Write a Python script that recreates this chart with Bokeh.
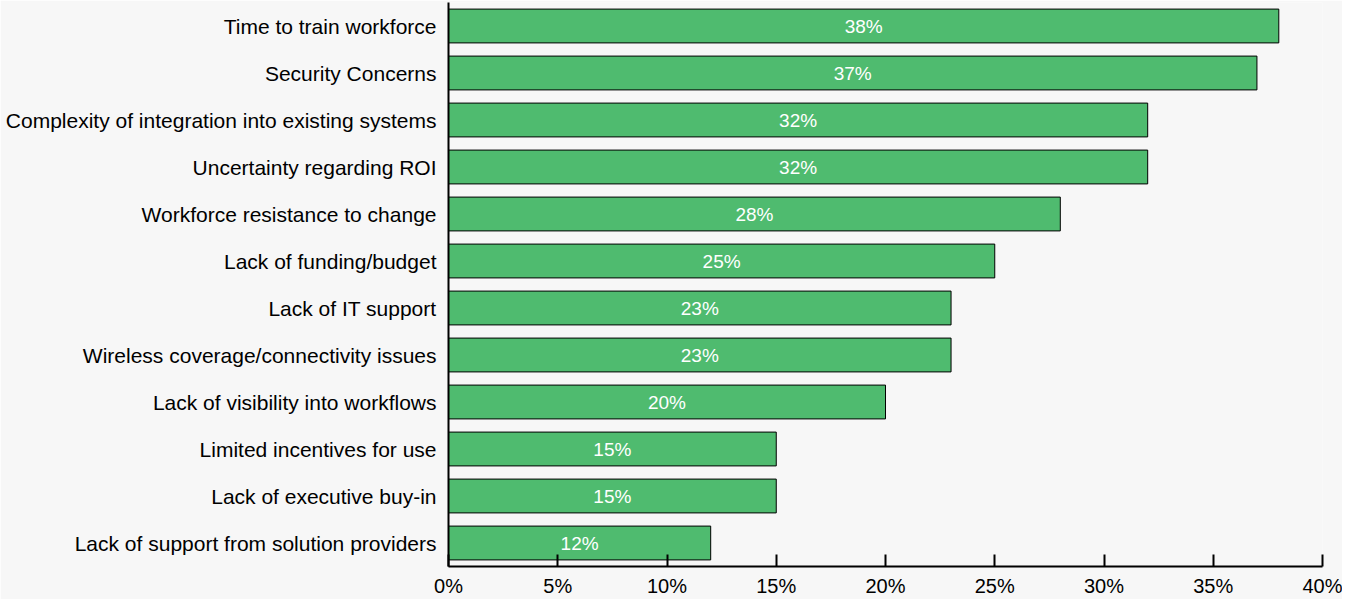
from bokeh.plotting import figure
from bokeh.models import ColumnDataSource, FixedTicker, PrintfTickFormatter, Range1d, FactorRange
from bokeh.core.properties import value
from bokeh.embed import file_html
from bokeh.resources import INLINE

categories = [
    "Time to train workforce",
    "Security Concerns",
    "Complexity of integration into existing systems",
    "Uncertainty regarding ROI",
    "Workforce resistance to change",
    "Lack of funding/budget",
    "Lack of IT support",
    "Wireless coverage/connectivity issues",
    "Lack of visibility into workflows",
    "Limited incentives for use",
    "Lack of executive buy-in",
    "Lack of support from solution providers",
]
values = [38, 37, 32, 32, 28, 25, 23, 23, 20, 15, 15, 12]
tick_values = [0, 5, 10, 15, 20, 25, 30, 35, 40]

FONT = "Liberation Sans"
BG = "#f7f7f7"
BAR = "#4fbb6f"

src = ColumnDataSource(dict(
    cat=categories,
    val=values,
    mid=[v / 2 for v in values],
    lab=[f"{v}%" for v in values],
))

p = figure(
    width=1342, height=599,
    y_range=FactorRange(*list(reversed(categories)), range_padding=0),
    x_range=Range1d(0, 40),
    output_backend="svg", toolbar_location=None,
    background_fill_color=BG, border_fill_color=BG,
    min_border_left=448, min_border_right=20, min_border_top=2, min_border_bottom=33,
)
p.outline_line_color = None
p.xgrid.grid_line_color = None
p.ygrid.grid_line_color = None

p.hbar(y="cat", right="val", left=0, height=0.72, source=src,
       fill_color=BAR, line_color="black", line_width=1)
p.text(x="mid", y="cat", text="lab", source=src, text_align="center",
       text_baseline="middle", text_color="white", text_font=value(FONT),
       text_font_size="19px")

xa = p.xaxis[0]
xa.ticker = FixedTicker(ticks=tick_values)
xa.formatter = PrintfTickFormatter(format="%d%%")
xa.axis_line_color = "black"
xa.axis_line_width = 2
xa.major_tick_line_color = "black"
xa.major_tick_line_width = 2
xa.major_tick_in = 12
xa.major_tick_out = 0
xa.minor_tick_line_color = None
xa.major_label_text_font = FONT
xa.major_label_text_font_size = "20px"
xa.major_label_text_color = "black"
xa.major_label_standoff = 8

ya = p.yaxis[0]
ya.axis_line_color = "black"
ya.axis_line_width = 2
ya.major_tick_line_color = None
ya.minor_tick_line_color = None
ya.major_tick_in = 0
ya.major_tick_out = 0
ya.major_label_text_font = FONT
ya.major_label_text_font_size = "21px"
ya.major_label_text_color = "black"
ya.major_label_standoff = 12

open("out.html", "w").write(file_html(p, INLINE))
